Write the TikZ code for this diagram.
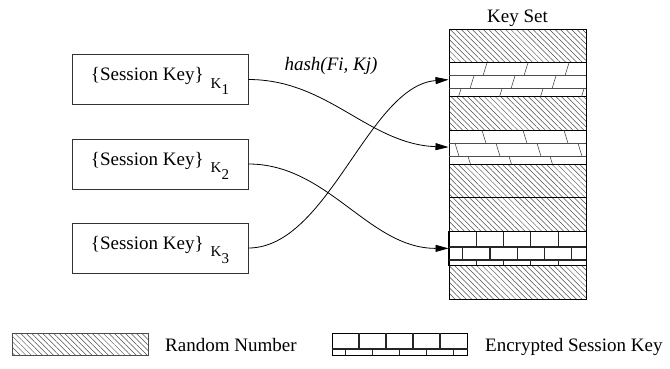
\documentclass[tikz,border=0pt]{standalone}
\usepackage{fontspec}
\setmainfont{Liberation Serif}
\usetikzlibrary{arrows.meta,patterns.meta}

\tikzset{
  keybox/.style={draw=black!80, line width=0.8pt, minimum width=176pt, minimum height=50pt,
    inner sep=0pt, text height=14pt, text depth=11.6pt, font=\fontsize{19}{22}\selectfont},
  slot/.style={draw, line width=1pt, minimum width=137pt, minimum height=33.75pt, inner sep=0pt},
  rnd/.style={slot, pattern={Lines[angle=-45,distance=3.9pt,line width=0.5pt]}, pattern color=black!70},
  brk/.style={line width=1.1pt, black!85},
  crk/.style={line width=0.6pt, black!70},
  link/.style={line width=0.8pt, -{Triangle[length=13pt,width=7pt]}},
  lbl/.style={font=\fontsize{19}{22}\selectfont, inner sep=0pt, anchor=base}
}
\newcommand{\skey}[1]{\{Session Key\}\hspace{7pt}{\fontsize{15}{15}\selectfont\raisebox{-7.6pt}{K\raisebox{-6.5pt}{#1}}}}

\begin{document}
\begin{tikzpicture}[x=1pt, y=-1pt]
    \useasboundingbox (0,0) rectangle (670,368);
    \node[keybox] (k1) at (160,79.5) {\skey{1}};
    \node[keybox] (k2) at (160,164) {\skey{2}};
    \node[keybox] (k3) at (160,248) {\skey{3}};
    \foreach \i in {1,3,5,6,8}
      \node[rnd] (r\i) at (517.5,{29+(\i-0.5)*33.75}) {};
    \foreach \i in {2,4,7}
      \node[slot] (r\i) at (517.5,{29+(\i-0.5)*33.75}) {};
    \node[lbl] (keyset) at (517.5,22) {Key Set};
    % cracked slots
    \foreach \y in {75.75,88.75} \draw[crk] (449,\y) -- (586,\y);
    \foreach \x in {487,528,569} \draw[crk] (\x,62.75) -- ++(-4,13);
    \foreach \x in {474,515,556} \draw[crk] (\x,75.75) -- ++(-4,13);
    \foreach \x in {461,502,543,584} \draw[crk] (\x,88.75) -- ++(-2.4,7.75);
    \foreach \y in {143.25,156.25} \draw[crk] (449,\y) -- (586,\y);
    \foreach \x in {482,523,564} \draw[crk] (\x,130.25) -- ++(4,13);
    \foreach \x in {455,496,537,578} \draw[crk] (\x,143.25) -- ++(4,13);
    \foreach \x in {468,509,550} \draw[crk] (\x,156.25) -- ++(2.4,7.75);
    % bricks
    \foreach \y in {247,260} \draw[brk] (449,\y) -- (586,\y);
    \foreach \k in {1,...,4}
      \draw[brk] ({449+27.3*\k},231.5) -- ++(0,15.5) ({449+27.3*\k},260) -- (({449+27.3*\k},265.25);
    \foreach \k in {0,...,4} \draw[brk] ({462.7+27.3*\k},247) -- ++(0,13);
    \draw[slot] (r7.north west) rectangle (r7.south east);
    \draw[link] (k1.east) .. controls +(80,0) and +(-80,-3) .. (r4.west);
    \draw[link] (k2.east) .. controls +(80,0) and +(-80,0) .. (r7.west);
    \draw[link] (k3.east) .. controls +(80,0) and +(-80,6) .. (r2.west);
    \node[lbl] (hash) at (331,70.7) {\textit{hash(Fi, Kj)}};
    % legend
    \node[rnd, draw=black!70, line width=0.7pt, minimum width=136pt, minimum height=22pt] (lrnd) at (80,344) {};
    \node[lbl, anchor=base west] (trnd) at (165,351) {Random Number};
    \node[slot, minimum width=135pt, minimum height=22pt] (lenc) at (399.5,344) {};
    \draw[brk] (lenc.west |- 0,349) -- (lenc.east |- 0,349);
    \foreach \k in {1,...,4} \draw[brk] ({332+27*\k},333) -- ++(0,16);
    \foreach \k in {0,...,4} \draw[brk] ({345.5+27*\k},349) -- ++(0,6);
    \node[lbl, anchor=base west] (tenc) at (485,351) {Encrypted Session Key};
\end{tikzpicture}
\end{document}
